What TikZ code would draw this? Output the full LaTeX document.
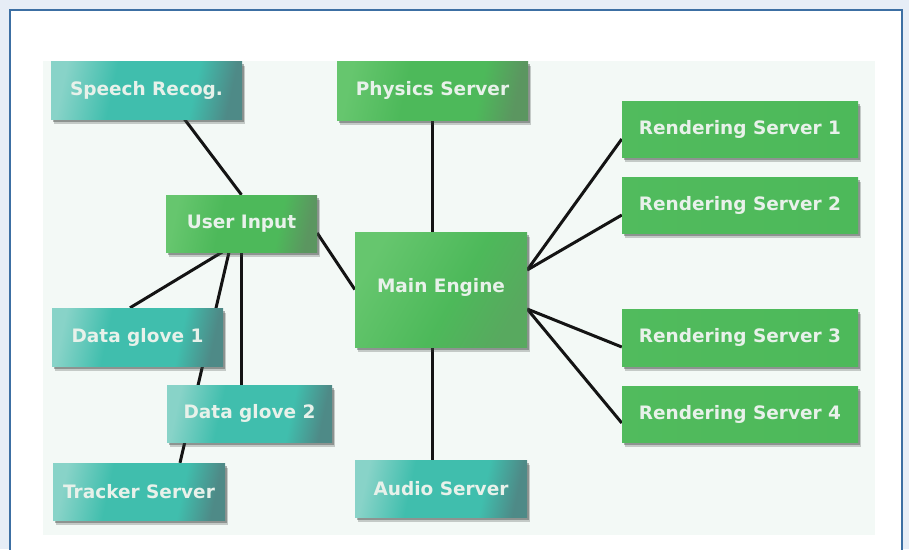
\documentclass[tikz,border=0pt]{standalone}
\usepackage{fontspec}
\setmainfont{DejaVu Sans}
\usetikzlibrary{shadows,calc}

\definecolor{outerbg}{HTML}{E6EDF6}
\definecolor{framec}{HTML}{3C6FA3}
\definecolor{panelbg}{HTML}{F3F9F6}
\definecolor{txt}{HTML}{E8F1EA}
\definecolor{tealL}{HTML}{88D3C8}
\definecolor{tealM}{HTML}{40BEAD}
\definecolor{tealD}{HTML}{4E8A87}
\definecolor{grnL}{HTML}{66C66E}
\definecolor{grnM}{HTML}{4DB95A}
\definecolor{grnD}{HTML}{5B9660}
\definecolor{grnR}{HTML}{58A95F}
\definecolor{linec}{HTML}{141414}
\definecolor{shadowc}{HTML}{3A403D}

% box fills: light at the left, saturated in the middle, darker at the right edge
\pgfdeclarehorizontalshading{tealshade}{100bp}{color(0bp)=(tealL); color(25bp)=(tealL); color(40bp)=(tealM); color(64bp)=(tealM); color(75bp)=(tealD); color(100bp)=(tealD)}
\pgfdeclarehorizontalshading{greenshade}{100bp}{color(0bp)=(grnL); color(25bp)=(grnL); color(42bp)=(grnM); color(64bp)=(grnM); color(75bp)=(grnD); color(100bp)=(grnD)}
\pgfdeclarehorizontalshading{flatgreen}{100bp}{color(0bp)=(grnM!85!grnL); color(25bp)=(grnM!85!grnL); color(75bp)=(grnM); color(100bp)=(grnM)}
\pgfdeclarehorizontalshading{engineshade}{100bp}{color(0bp)=(grnL); color(25bp)=(grnL); color(55bp)=(grnM); color(75bp)=(grnR); color(100bp)=(grnR)}

\pgfdeclarelayer{edges}
\pgfsetlayers{edges,main}

\tikzset{
  box/.style={rectangle, inner sep=0pt, minimum height=57pt, text=txt,
    font=\bfseries\fontsize{18.5}{22}\selectfont,
    drop shadow={shadow xshift=1.5pt, shadow yshift=-2.5pt, opacity=0.4, fill=shadowc},
    drop shadow={shadow xshift=2.5pt, shadow yshift=-4.5pt, opacity=0.25, fill=shadowc}},
  tealbox/.style={box, shading=tealshade, shading angle=-12},
  greenbox/.style={box, shading=greenshade, shading angle=-12},
  renderbox/.style={box, shading=flatgreen, minimum width=236pt, minimum height=56pt},
  link/.style={draw=linec, line width=3pt}
}

\begin{document}
\begin{tikzpicture}[x=1pt, y=-1pt]
\useasboundingbox (0,0) rectangle (909,549);

\begin{pgfonlayer}{edges}
  \fill[outerbg] (0,0) rectangle (909,549);
  \draw[framec, line width=2pt, fill=white] (10,10) rectangle (902,560);
  \fill[panelbg] (43,61) rectangle (875,535);
\end{pgfonlayer}

% input side
\node[tealbox, minimum width=191pt, minimum height=58pt] (sr) at (146.5,90) {Speech Recog.};
\node[greenbox, minimum width=151pt] (ui) at (241.5,223.5) {User Input};
\node[tealbox, minimum width=171pt, minimum height=58pt] (dg1) at (137.5,337) {Data glove 1};
\node[tealbox, minimum width=165pt] (dg2) at (249.5,413.5) {Data glove 2};
\node[tealbox, minimum width=172pt] (tr) at (139,491.5) {Tracker Server};

% engine column
\node[greenbox, minimum width=191pt, minimum height=59pt] (ps) at (432.5,90.5) {Physics Server};
\node[box, shading=engineshade, shading angle=-30, minimum width=172pt, minimum height=115pt] (me) at (441,289.5) {\raisebox{9pt}{Main Engine}};
\node[tealbox, minimum width=172pt] (au) at (441,488.5) {Audio Server};

% rendering servers
\node[renderbox] (rs1) at (740,129) {Rendering Server 1};
\node[renderbox] (rs2) at (740,205) {Rendering Server 2};
\node[renderbox, minimum height=57pt] (rs3) at (740,337.5) {Rendering Server 3};
\node[renderbox] (rs4) at (740,414) {Rendering Server 4};

\begin{pgfonlayer}{edges}
  \draw[link] ([xshift=38pt]sr.south) -- (ui.north);
  \draw[link] ([yshift=-9.5pt]ui.east) -- (me.west);
  \draw[link] ([xshift=-19.5pt]ui.south) -- ([xshift=-7.5pt]dg1.north);
  \draw[link] ([xshift=-12.5pt]ui.south) -- ([xshift=41pt]tr.north);
  \draw[link] (ui.south) -- (ui.south |- dg2.north);
  \draw[link] (ps.south) -- (ps.south |- me.north);
  \draw[link] (ps.south |- me.south) -- (ps.south |- au.north);
  \draw[link] ([yshift=19.5pt]me.east) -- ([yshift=-10pt]rs1.west);
  \draw[link] ([yshift=19.5pt]me.east) -- ([yshift=-10pt]rs2.west);
  \draw[link] ([yshift=-19.5pt]me.east) -- ([yshift=-9.5pt]rs3.west);
  \draw[link] ([yshift=-19.5pt]me.east) -- ([yshift=-9pt]rs4.west);
\end{pgfonlayer}
\end{tikzpicture}
\end{document}
